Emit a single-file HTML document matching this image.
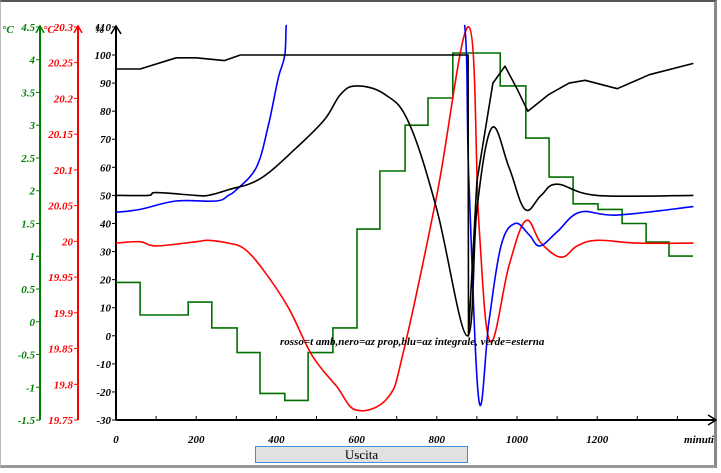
<!DOCTYPE html>
<html><head><meta charset="utf-8"><style>
body{margin:0;background:#fff;}
#wrap{position:relative;width:721px;height:473px;overflow:hidden;background:#fff;font-family:"Liberation Serif",serif;}
#frame{position:absolute;left:0;top:0;width:717px;height:468px;border-top:2px solid #555;border-right:3px solid #888;border-bottom:3px solid #999;border-left:1px solid #bbb;box-sizing:border-box;}
#btn{position:absolute;left:255px;top:446px;width:213px;height:17px;background:#e1e1e1;border:1px solid #3c8fd6;box-sizing:border-box;font:13px "Liberation Serif",serif;text-align:center;line-height:15px;}
svg text{font-family:"Liberation Serif",serif;font-style:italic;font-weight:bold;font-size:11px;}
</style></head><body>
<div id="wrap">
<div id="frame"></div>
<svg id="chart" width="721" height="473" style="position:absolute;left:0;top:0"></svg>
<div id="btn">Uscita</div>
</div>
<script>
const xTicks=[0,200,400,600,800,1000,1200];
const yTicks=[-30,-20,-10,0,10,20,30,40,50,60,70,80,90,100,110];
const greenTicks=["-1.5","-1","-0.5","0","0.5","1","1.5","2","2.5","3","3.5","4","4.5"];
const redTicks=["19.75","19.8","19.85","19.9","19.95","20","20.05","20.1","20.15","20.2","20.25","20.3"];
const redX=[0,60,100,200,230,280,320,367,430,489,550,600,678,718,800,880,905,933,980,1022,1060,1110,1150,1200,1300,1440];
const redV=[33,33.5,32,33.5,34,33,31,23.5,10,-7,-18,-26.5,-22,-5,50,110,40,-2,25,41,33,28,32,34,33,33];
const blueX=[0,60,150,250,280,300,350,380,405,421,430,865,880,905,930,960,995,1030,1057,1100,1157,1250,1440];
const blueV=[44,45,48,48,50,52,60,75,92,100,115,115,55,-23,5,32,40,36,32,37,44,43,46];
const propX=[0,80,100,200,230,280,360,450,520,560,600,670,730,800,876,900,937,980,1020,1060,1100,1200,1440];
const propV=[50,50,51,50,50,52,56,67,77,86,89,86,76,45,0,45,74,60,45,50,54,50,50];
const topX=[0,60,150,200,270,310,878,879,900,940,970,1000,1027,1080,1130,1170,1250,1330,1440];
const topV=[95,95,99,99,98,100,100,0,55,90,96,88,80,86,90,91,88,93,97];
const greenEdges=[0,60,180,239,302,359,421,479,541,601,658,721,778,840,958,1022,1080,1140,1202,1262,1322,1379,1439];
const greenV=[19,7.4,12,2.8,-6,-20.5,-23,-6,2.8,38,58.7,75,84.7,100.7,89,70.4,56.5,47,45,40,33.4,28.4];

const svg=document.getElementById('chart');const NS='http://www.w3.org/2000/svg';
const X0=116,XS=0.401,Y100=55,YS=2.808;
const px=m=>X0+m*XS;const py=v=>Y100+(100-v)*YS;
function mk(t,a,p){const e=document.createElementNS(NS,t);for(const k in a)e.setAttribute(k,a[k]);(p||svg).appendChild(e);return e;}
const defs=mk('defs',{});const cp=mk('clipPath',{id:'pc'},defs);mk('rect',{x:116,y:py(110)-2,width:600,height:py(-30)-py(110)+4},cp);
const ax=mk('g',{});
mk('line',{x1:X0,y1:py(110),x2:X0,y2:py(-30),stroke:'#000','stroke-width':2},ax);
mk('line',{x1:X0,y1:py(-30),x2:714,y2:py(-30),stroke:'#000','stroke-width':2},ax);
mk('path',{d:`M${X0-5},${py(110)+7}L${X0},${py(110)-1}L${X0+5},${py(110)+7}`,fill:'none',stroke:'#000','stroke-width':1.5},ax);
mk('path',{d:`M708,${py(-30)-5}L716,${py(-30)}L708,${py(-30)+5}`,fill:'none',stroke:'#000','stroke-width':1.5},ax);
yTicks.forEach(v=>{mk('line',{x1:X0-4,y1:py(v),x2:X0,y2:py(v),stroke:'#000'},ax);
 const t=mk('text',{x:X0-5,y:py(v)+4,'text-anchor':'end',fill:'#000'},ax);t.textContent=v;
 });
for(let m=100;m<=1400;m+=100){mk('line',{x1:px(m),y1:py(-30),x2:px(m),y2:py(-30)-4,stroke:'#000'},ax);}
xTicks.forEach(m=>{const t=mk('text',{x:px(m),y:443,'text-anchor':'middle',fill:'#000'},ax);t.textContent=m;
 });
const xl=mk('text',{x:699,y:443,'text-anchor':'middle'},ax);xl.textContent='minuti';

const pl=mk('text',{x:95,y:33,fill:'#000'},ax);pl.textContent='%';

function side(xa,labels,lo,hi,col,nm){const g=mk('g',{});
 mk('line',{x1:xa,y1:py(110),x2:xa,y2:py(-30),stroke:col,'stroke-width':2},g);
 mk('path',{d:`M${xa-4},${py(110)+6}L${xa},${py(110)-1}L${xa+4},${py(110)+6}`,fill:'none',stroke:col,'stroke-width':1.5},g);
 labels.forEach(s=>{const v=parseFloat(s);const y=py(-30)+(v-lo)/(hi-lo)*(py(110)-py(-30));
  mk('line',{x1:xa-4,y1:y,x2:xa,y2:y,stroke:col},g);
  const t=mk('text',{x:xa-5,y:y+4,'text-anchor':'end',fill:col},g);t.textContent=s;});
 return g;}
const gg=side(40,greenTicks,-1.5,4.5,'#008000','green-axis');
const rg=side(78,redTicks,19.75,20.3,'#ff0000','red-axis');
const gu=mk('text',{x:2,y:33,fill:'#008000'},gg);gu.textContent='°C';
const ru=mk('text',{x:43,y:33,fill:'#ff0000'},rg);ru.textContent='°C';
function smoothPath(P){let d='M'+P[0][0].toFixed(1)+','+P[0][1].toFixed(1);
 for(let i=0;i<P.length-1;i++){const p0=P[i-1]||P[i],p1=P[i],p2=P[i+1],p3=P[i+2]||P[i+1];
  const t=0.18;
  let c1x=p1[0]+(p2[0]-p0[0])*t,c1y=p1[1]+(p2[1]-p0[1])*t,c2x=p2[0]-(p3[0]-p1[0])*t,c2y=p2[1]-(p3[1]-p1[1])*t;
  c1x=Math.min(Math.max(c1x,p1[0]),p2[0]);c2x=Math.min(Math.max(c2x,p1[0]),p2[0]);
  d+='C'+c1x.toFixed(1)+','+c1y.toFixed(1)+' '+c2x.toFixed(1)+','+c2y.toFixed(1)+' '+p2[0].toFixed(1)+','+p2[1].toFixed(1);}
 return d;}
function line(xs,vs,col,nm,smooth){const P=xs.map((m,i)=>[px(m),py(vs[i])]);
 const d=smooth?smoothPath(P):P.map((p,i)=>(i?'L':'M')+p[0].toFixed(1)+','+p[1].toFixed(1)).join('');
 const p=mk('path',{d,fill:'none',stroke:col,'stroke-width':1.6,'clip-path':'url(#pc)','stroke-linejoin':'round'});
 }
let gd='';greenV.forEach((v,i)=>{gd+=(i?'L':'M')+px(greenEdges[i]).toFixed(1)+','+py(v).toFixed(1)+'L'+px(greenEdges[i+1]).toFixed(1)+','+py(v).toFixed(1);});
const gp=mk('path',{d:gd,fill:'none',stroke:'#007000','stroke-width':1.6});

line(redX,redV,'#ff0000','red-ambient-temp',true);
line(blueX,blueV,'#0000ff','blue-integral',true);
line(propX,propV,'#000','black-proportional',true);
line(topX,topV,'#000','black-output',false);
const lg=mk('text',{x:280,y:345,fill:'#000','font-size':'10'});lg.textContent='rosso=t amb,nero=az prop,blu=az integrale, verde=esterna';

</script>
</body></html>
